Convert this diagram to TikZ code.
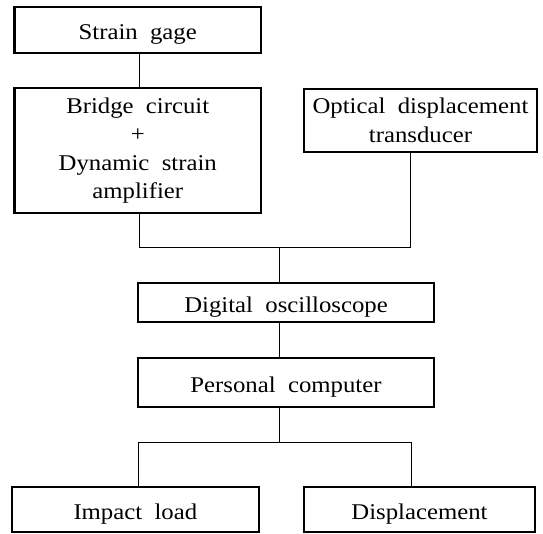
\documentclass[tikz,border=0pt]{standalone}
\usepackage{fontspec}
\setmainfont{Liberation Serif}[FakeStretch=1.1, WordSpace=2]
\usepackage{tikz}

\begin{document}
\begin{tikzpicture}[x=1pt, y=-1pt,
        box/.style={draw, line width=2.2pt, inner sep=0pt, align=center,
                    font=\fontsize{22.5}{28.5}\selectfont,
                    execute at begin node={\rule{0pt}{24pt}}},
        link/.style={line width=0.9pt}]
            \useasboundingbox (0,0) rectangle (543,533);
            % sensors and amplifier
            \node[box, minimum width=246.5pt, minimum height=46pt] (gage) at (137.75,30) {Strain gage};
            \node[box, minimum width=246.5pt, minimum height=125pt] (bridge) at (137.75,150.5)
                  {Bridge circuit\\+\\Dynamic strain\\amplifier};
            \node[box, minimum width=233pt, minimum height=63pt] (optical) at (420.5,120.5)
                  {Optical displacement\\transducer};
            % recording
            \node[box, minimum width=296pt, minimum height=39pt] (scope) at (286,302.5) {Digital oscilloscope};
            \node[box, minimum width=296pt, minimum height=49pt] (pc) at (286,382.5) {Personal computer};
            % results
            \node[box, minimum width=247pt, minimum height=45pt] (impact) at (135.35,509.5) {Impact load};
            \node[box, minimum width=231pt, minimum height=45pt] (disp) at (419.5,509.5) {Displacement};
            % connectors
            \coordinate (join) at (279,247.5);
            \coordinate (fork) at (279,442);
            \draw[link] ([xshift=1.75pt]gage.south) -- ([xshift=1.75pt]bridge.north);
            \draw[link] ([xshift=1.75pt]bridge.south) |- (join);
            \draw[link] ([xshift=-10.5pt]optical.south) |- (join);
            \draw[link] (join) -- (scope.north -| join);
            \draw[link] (scope.south -| join) -- (pc.north -| join);
            \draw[link] (pc.south -| join) -- (fork);
            \draw[link] (fork) -| ([xshift=2.65pt]impact.north);
            \draw[link] (fork) -| ([xshift=-8.5pt]disp.north);
\end{tikzpicture}
\end{document}
